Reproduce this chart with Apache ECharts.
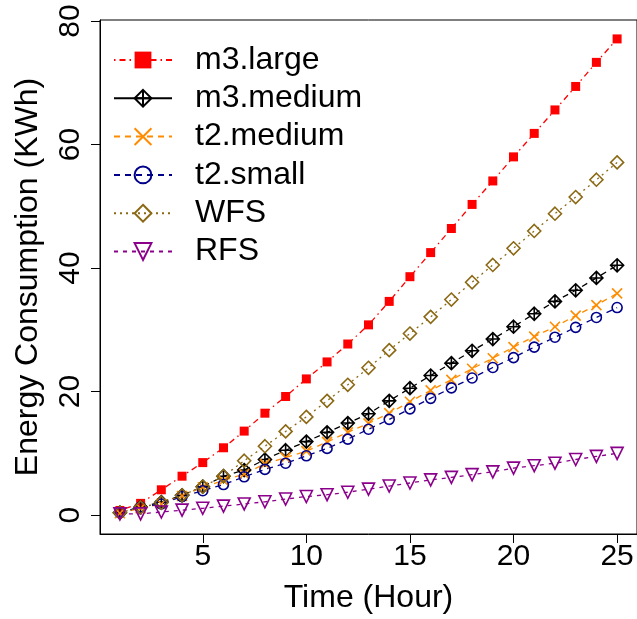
<!DOCTYPE html>
<html>
<head>
<meta charset="utf-8">
<script src="https://cdn.jsdelivr.net/npm/echarts@6/dist/echarts.min.js"></script>
<style>
html,body{margin:0;padding:0;background:#fff;}
#c{width:637px;height:619px;}
</style>
</head>
<body>
<div id="c"></div>
<script>
// ---- data ----
var hours = [1,2,3,4,5,6,7,8,9,10,11,12,13,14,15,16,17,18,19,20,21,22,23,24,25];
var m3Large  = [0.75,1.9,4.1,6.3,8.5,10.9,13.6,16.5,19.2,22.05,24.8,27.7,30.8,34.6,38.6,42.5,46.4,50.3,54.1,58.0,61.8,65.6,69.4,73.3,77.1];
var m3Medium = [0.4,1.3,2.1,3.2,4.6,6.3,7.3,9.0,10.5,11.9,13.4,14.9,16.4,18.5,20.55,22.6,24.6,26.6,28.5,30.5,32.6,34.6,36.4,38.4,40.45];
var t2Medium = [0.3,1.1,1.8,3.1,4.5,5.6,6.65,8.3,9.3,10.35,11.85,13.4,14.85,16.5,18.35,20.2,21.9,23.7,25.4,27.2,28.9,30.5,32.3,34.0,35.9];
var t2Small  = [0.4,1.3,1.8,3.0,3.95,4.95,6.2,7.4,8.4,9.6,10.8,12.3,13.9,15.5,17.2,18.9,20.6,22.2,23.9,25.5,27.2,28.8,30.4,32.0,33.6];
var wfs      = [0.4,1.25,2.0,3.2,4.6,6.3,8.8,11.15,13.55,15.9,18.5,21.1,23.85,26.7,29.4,32.1,34.9,37.7,40.5,43.2,46.0,48.8,51.5,54.3,57.1];
var rfs      = [0.2,0.2,0.5,0.8,1.1,1.45,1.8,2.15,2.6,3.0,3.3,3.7,4.2,4.7,5.2,5.7,6.1,6.55,7.0,7.6,8.0,8.4,9.0,9.5,10.0];
var seriesNames = ['m3.large','m3.medium','t2.medium','t2.small','WFS','RFS'];
var xTicks = [5,10,15,20,25];
var yTicks = [0,20,40,60,80];
var xTitle = 'Time (Hour)';
var yTitle = 'Energy Consumption (KWh)';

function pairs(vals){ return hours.map(function(h,i){ return [h, vals[i]]; }); }

var FONT = '"Liberation Sans", Arial, sans-serif';
var diamondPlus = 'path://M0,-10L10,0L0,10L-10,0Z M0,-10L0,10 M-10,0L10,0';
var crossX = 'path://M-10,-10L10,10 M-10,10L10,-10';

function mk(name, vals, color, symbol, size, dash, filled, rot){
  return {
    name: name, type: 'line', data: pairs(vals),
    symbol: symbol, symbolSize: size, symbolRotate: rot || 0,
    showAllSymbol: true,
    lineStyle: {color: color, width: 1.3, type: dash},
    itemStyle: {color: filled ? color : 'rgba(0,0,0,0)', borderColor: color, borderWidth: filled ? 0 : 1.6},
    emphasis: {disabled: true},
    animation: false
  };
}

var series = [
  mk(seriesNames[0], m3Large, '#FF0000', 'rect', 9, [1.5,4,6,4], true),
  mk(seriesNames[1], m3Medium, '#000000', diamondPlus, 13, [6,5], false),
  mk(seriesNames[2], t2Medium, '#FF8C00', crossX, 10, [6,5], false),
  mk(seriesNames[3], t2Small, '#00008B', 'circle', 10, [6,5], false),
  mk(seriesNames[4], wfs, '#8B6914', 'diamond', 13, [2,4], false),
  mk(seriesNames[5], rfs, '#8B008B', 'triangle', 12, [4,5], false, 180)
];

var chart = echarts.init(document.getElementById('c'), null, {renderer: 'canvas'});
chart.setOption({
  backgroundColor: '#ffffff',
  animation: false,
  textStyle: {fontFamily: FONT},
  grid: {left: 100, right: -1, top: 20, bottom: 82, show: true, borderColor: '#000', borderWidth: 1, containLabel: false},
  legend: {
    orient: 'vertical', left: 108, top: 39,
    itemWidth: 58, itemHeight: 21, itemGap: 6.3,
    textStyle: {fontSize: 32, color: '#000', fontFamily: FONT, padding: [0,0,0,18]},
    data: seriesNames.map(function(n, i){
      return i === 1 ? {name: n, lineStyle: {type: 'solid'}} : {name: n};
    }),
    selectedMode: false
  },
  xAxis: {
    type: 'value', min: 0.04, max: 25.96,
    name: xTitle, nameLocation: 'middle', nameGap: 48,
    nameTextStyle: {fontSize: 32, color: '#000', fontFamily: FONT},
    axisLine: {show: true, onZero: false, lineStyle: {color: '#000', width: 1}},
    axisTick: {show: true, length: 9, customValues: xTicks, lineStyle: {color: '#000'}},
    axisLabel: {fontSize: 30, color: '#000', margin: 8, customValues: xTicks, fontFamily: FONT},
    splitLine: {show: false}
  },
  yAxis: {
    type: 'value', min: -3.06, max: 80.16,
    name: yTitle, nameLocation: 'middle', nameGap: 56,
    nameTextStyle: {fontSize: 32, color: '#000', fontFamily: FONT},
    axisLine: {show: true, onZero: false, lineStyle: {color: '#000', width: 1}},
    axisTick: {show: true, length: 9, customValues: yTicks, lineStyle: {color: '#000'}},
    axisLabel: {fontSize: 30, color: '#000', margin: 14, rotate: 90, customValues: yTicks, fontFamily: FONT},
    splitLine: {show: false}
  },
  series: series
});
</script>
</body>
</html>
